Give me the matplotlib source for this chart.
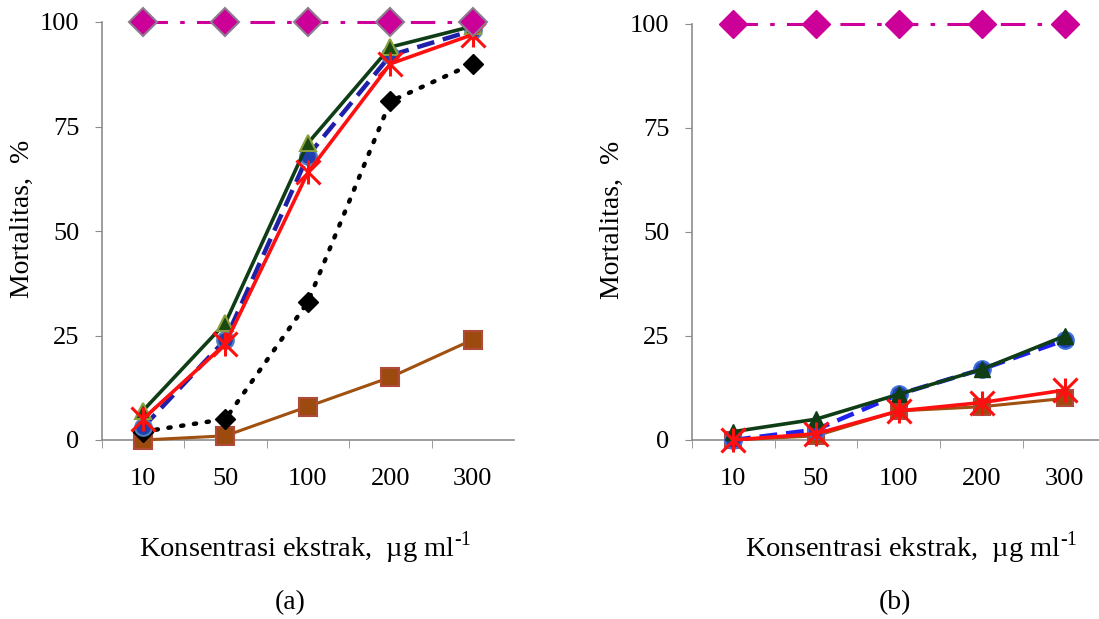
import matplotlib
matplotlib.use("Agg")
import matplotlib.pyplot as plt
from matplotlib.ticker import FixedLocator, NullFormatter

plt.rcParams['font.family'] = ['Liberation Serif', 'DejaVu Serif']
plt.rcParams['mathtext.fontset'] = 'custom'
plt.rcParams['mathtext.rm'] = 'Liberation Serif'

categories = ["10", "50", "100", "200", "300"]
yticks = [0, 25, 50, 75, 100]

# panel (a)
a_control = [100, 100, 100, 100, 100]
a_green = [7, 28, 71, 94, 99]
a_blue = [3, 24, 68, 92, 98]
a_red = [5, 23, 64, 90, 97]
a_black = [2, 5, 33, 81, 90]
a_brown = [0, 1, 8, 15, 24]

# panel (b)
b_control = [100, 100, 100, 100, 100]
b_green = [2, 5, 11, 17, 25]
b_blue = [0, 2.5, 11, 17, 24]
b_red = [0, 1.5, 7, 9, 12]
b_brown = [0, 1, 7, 8, 10]

W, H = 1099, 619
fig = plt.figure(figsize=(W / 100, H / 100), dpi=100)

def make_ax(x0, x1, ytop, ybot=440):
    return fig.add_axes([x0 / W, (H - ybot) / H, (x1 - x0) / W, (ybot - ytop) / H])

axa = make_ax(101.7, 514, 22)
axb = make_ax(691.7, 1106, 24)

spine_col = '#8c8c8c'
magenta = '#CC0099'
xlabel_text = r'Konsentrasi ekstrak,  µg ml$^{\text{-1}}$'

def style(ax, xlab_x, ylab_x):
    x = list(range(len(categories)))
    ax.set_xlim(-0.5, len(categories) - 0.5)
    ax.set_ylim(0, 100)
    ax.set_xticks(x)
    ax.set_xticklabels(categories, fontsize=19)
    ax.tick_params(axis='x', which='major', length=0, pad=20)
    ax.xaxis.set_minor_locator(FixedLocator([i - 0.5 for i in range(len(categories))]))
    ax.xaxis.set_minor_formatter(NullFormatter())
    ax.tick_params(axis='x', which='minor', length=6, color=spine_col, direction='out')
    ax.set_yticks(yticks)
    ax.set_yticklabels([str(v) for v in yticks], fontsize=19)
    ax.tick_params(axis='y', length=5, color=spine_col, direction='out', pad=11)
    for s in ['top', 'right']:
        ax.spines[s].set_visible(False)
    for s in ['left', 'bottom']:
        ax.spines[s].set_color(spine_col)
        ax.spines[s].set_linewidth(1.2)
    ax.set_ylabel('Mortalitas,  %', fontsize=20, va='center')
    ax.yaxis.set_label_coords(ylab_x, 0.53)
    ax.set_xlabel(xlabel_text, fontsize=20.5, va='center')
    ax.xaxis.set_label_coords(xlab_x, -0.258)
    return x

x = style(axa, 0.494, -0.193)
axa.plot(x, a_brown, color='#A0500F', lw=2.2, marker='s', ms=13, mfc='#9C4A0E', mec='#B04A3A', mew=1.5, clip_on=False, zorder=3)
axa.plot(x, a_black, color='black', lw=3.2, ls=(0, (0.5, 2.4)), dash_capstyle='round', marker='D', ms=10, mfc='black', mec='black', clip_on=False, zorder=4)
axa.plot(x, a_blue, color='#1F1FAA', lw=3.2, ls=(0, (4, 2)), marker='o', ms=12, mfc='#1F3FB0', mec='#4F7FC0', mew=1.5, clip_on=False, zorder=4)
axa.plot(x, a_green, color='#0F3D16', lw=2.6, marker='^', ms=12, mfc='#1A4A10', mec='#8AA040', mew=1.5, clip_on=False, zorder=5)
axa.plot(x, a_red, color='#FF1010', lw=2.6, marker='x', ms=17, mew=2.2, mec='#FF1010', clip_on=False, zorder=6)
axa.plot(x, a_red, color='none', lw=0, marker='|', ms=17, mew=2.2, mec='#FF1010', clip_on=False, zorder=6)
axa.plot(x, a_control, color=magenta, lw=2.2, ls=(0, (8, 4, 1.5, 4)), marker='D', ms=14, mfc=magenta, mec='#8E7A8E', mew=1.5, clip_on=False, zorder=7)

x = style(axb, 0.53, -0.1925)
axb.plot(x, b_brown, color='#A0500F', lw=2.2, marker='s', ms=12, mfc='#9C4A0E', mec='#B04A3A', mew=1.5, clip_on=False, zorder=3)
axb.plot(x, b_blue, color='#1F1FEE', lw=3.2, ls=(0, (4, 2)), marker='o', ms=12, mfc='#1F3FB0', mec='#3F6FE0', mew=1.5, clip_on=False, zorder=4)
axb.plot(x, b_green, color='#0F3D16', lw=2.6, marker='^', ms=11, mfc='#0F3D16', mec='#0F3D16', clip_on=False, zorder=5)
axb.plot(x, b_red, color='#FF1010', lw=2.6, marker='x', ms=17, mew=2.2, mec='#FF1010', clip_on=False, zorder=6)
axb.plot(x, b_red, color='none', lw=0, marker='|', ms=17, mew=2.2, mec='#FF1010', clip_on=False, zorder=6)
axb.plot(x, b_control, color=magenta, lw=2.2, ls=(0, (8, 4, 1.5, 4)), marker='D', ms=14, mfc=magenta, mec=magenta, clip_on=False, zorder=7)

fig.text(290 / W, 1 - 603 / H, '(a)', fontsize=20, ha='center', va='center')
fig.text(895 / W, 1 - 603 / H, '(b)', fontsize=20, ha='center', va='center')

fig.savefig('out.png', dpi=100)
